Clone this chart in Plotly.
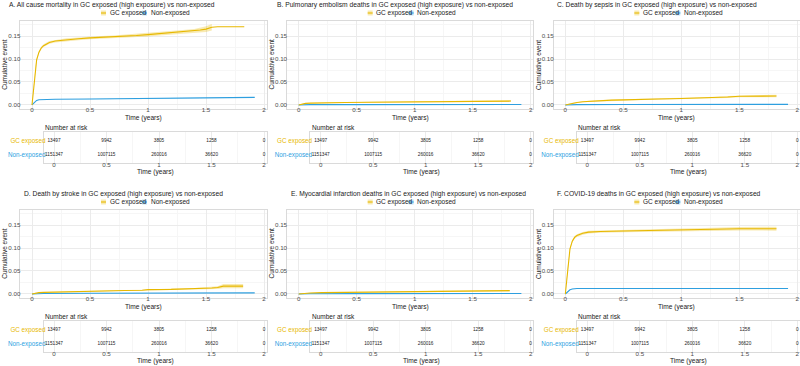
import plotly.graph_objects as go

# ---------------- data ----------------
panel_titles = [
    "A. All cause mortality in GC exposed (high exposure) vs non-exposed",
    "B. Pulmonary embolism deaths in GC exposed (high exposure) vs non-exposed",
    "C. Death by sepsis in GC exposed (high exposure) vs non-exposed",
    "D. Death by stroke in GC exposed (high exposure) vs non-exposed",
    "E. Myocardial infarction deaths in GC exposed (high exposure) vs non-exposed",
    "F. COVID-19 deaths in GC exposed (high exposure) vs non-exposed",
]
group_names = ["GC exposed", "Non-exposed"]
risk_times = [0, 0.5, 1, 1.5, 2]
risk_gc = ["13497", "9942", "3805", "1258", "0"]
risk_ne = ["1151347", "1007115", "260016", "36620", "0"]
x_tick_vals = [0, 0.5, 1, 1.5, 2]
x_tick_text = ["0", "0.5", "1", "1.5", "2"]
y_tick_vals = [0, 0.05, 0.10, 0.15]
y_tick_text = ["0.00", "0.05", "0.10", "0.15"]

# Panel A
A_gc_t = [0, 0.01, 0.02, 0.03, 0.04, 0.06, 0.08, 0.1, 0.15, 0.2, 0.3, 0.4, 0.5, 0.6, 0.7, 0.8, 0.9, 1.0, 1.1, 1.2, 1.3, 1.4, 1.45, 1.5, 1.55, 1.6, 1.83]
A_gc_est = [0, 0.025, 0.055, 0.08, 0.098, 0.115, 0.124, 0.129, 0.136, 0.139, 0.142, 0.144, 0.146, 0.147, 0.148, 0.150, 0.151, 0.153, 0.155, 0.157, 0.159, 0.161, 0.163, 0.165, 0.169, 0.170, 0.170]
A_gc_band_t = [0, 0.01, 0.02, 0.03, 0.04, 0.06, 0.08, 0.1, 0.15, 0.2, 0.3, 0.4, 0.5, 0.6, 0.7, 0.8, 0.9, 1.0, 1.1, 1.2, 1.3, 1.4, 1.45, 1.5, 1.55]
A_gc_lo = [0, 0.023, 0.052, 0.077, 0.095, 0.112, 0.121, 0.126, 0.133, 0.136, 0.139, 0.141, 0.143, 0.144, 0.145, 0.147, 0.148, 0.149, 0.151, 0.153, 0.155, 0.157, 0.158, 0.159, 0.162]
A_gc_hi = [0, 0.027, 0.058, 0.083, 0.101, 0.118, 0.127, 0.132, 0.139, 0.142, 0.145, 0.147, 0.149, 0.150, 0.151, 0.153, 0.154, 0.157, 0.159, 0.161, 0.163, 0.165, 0.168, 0.171, 0.176]
A_ne_t = [0, 0.02, 0.04, 0.06, 0.1, 0.2, 0.5, 1.0, 1.3, 1.5, 1.92]
A_ne_est = [0, 0.006, 0.010, 0.0115, 0.0122, 0.0125, 0.013, 0.0138, 0.0148, 0.0157, 0.0165]
A_ne_lo = [0, 0.0057, 0.0097, 0.0112, 0.0119, 0.0122, 0.0127, 0.0135, 0.0144, 0.0152, 0.0158]
A_ne_hi = [0, 0.0063, 0.0103, 0.0118, 0.0125, 0.0128, 0.0133, 0.0141, 0.0152, 0.0162, 0.0172]

# Panel B
B_gc_t = [0, 0.03, 0.06, 0.1, 0.2, 0.4, 0.6, 0.8, 1.0, 1.2, 1.4, 1.5, 1.83]
B_gc_est = [0, 0.002, 0.0035, 0.004, 0.005, 0.0055, 0.006, 0.0065, 0.007, 0.0072, 0.0078, 0.0085, 0.0085]
B_gc_lo = [0, 0.0012, 0.0025, 0.003, 0.0038, 0.0043, 0.0047, 0.0051, 0.0055, 0.0057, 0.0062, 0.0068, 0.0068]
B_gc_hi = [0, 0.0028, 0.0045, 0.005, 0.0062, 0.0068, 0.0073, 0.0079, 0.0085, 0.0088, 0.0095, 0.0103, 0.0103]
B_ne_t = [0, 0.1, 0.5, 1.0, 1.5, 1.92]
B_ne_est = [0, 0.0007, 0.0008, 0.0009, 0.001, 0.001]
B_ne_lo = [0, 0.0006, 0.0007, 0.0008, 0.0009, 0.0008]
B_ne_hi = [0, 0.0008, 0.0009, 0.001, 0.0011, 0.0012]

# Panel C
C_gc_t = [0, 0.03, 0.06, 0.1, 0.15, 0.2, 0.3, 0.4, 0.5, 0.6, 0.8, 1.0, 1.2, 1.3, 1.4, 1.5, 1.82]
C_gc_est = [0, 0.002, 0.004, 0.0055, 0.007, 0.008, 0.0095, 0.0105, 0.011, 0.012, 0.013, 0.014, 0.015, 0.016, 0.0175, 0.019, 0.0195]
C_gc_lo = [0, 0.0012, 0.003, 0.0043, 0.0057, 0.0066, 0.008, 0.0089, 0.0094, 0.0103, 0.0112, 0.0121, 0.013, 0.0139, 0.0153, 0.0166, 0.0168]
C_gc_hi = [0, 0.0028, 0.005, 0.0067, 0.0083, 0.0094, 0.011, 0.0121, 0.0126, 0.0137, 0.0148, 0.0159, 0.017, 0.0181, 0.0197, 0.0214, 0.0222]
C_ne_t = [0, 0.1, 0.5, 1.0, 1.5, 1.92]
C_ne_est = [0, 0.0008, 0.001, 0.0012, 0.0013, 0.0014]
C_ne_lo = [0, 0.0007, 0.0009, 0.0011, 0.0012, 0.0012]
C_ne_hi = [0, 0.0009, 0.0011, 0.0013, 0.0014, 0.0016]

# Panel D
D_gc_t = [0, 0.03, 0.06, 0.1, 0.2, 0.4, 0.6, 0.8, 0.95, 1.0, 1.2, 1.4, 1.5, 1.55, 1.6, 1.65, 1.82]
D_gc_est = [0, 0.002, 0.003, 0.0035, 0.0043, 0.0055, 0.0065, 0.0075, 0.008, 0.0095, 0.010, 0.011, 0.012, 0.013, 0.014, 0.017, 0.017]
D_gc_lo = [0, 0.0012, 0.0021, 0.0026, 0.0033, 0.0044, 0.0053, 0.0062, 0.0066, 0.0079, 0.0083, 0.0091, 0.0098, 0.0104, 0.011, 0.0125, 0.0125]
D_gc_hi = [0, 0.0028, 0.0039, 0.0044, 0.0053, 0.0066, 0.0077, 0.0088, 0.0094, 0.0111, 0.0117, 0.0129, 0.0142, 0.0156, 0.017, 0.0215, 0.0215]
D_ne_t = [0, 0.1, 0.5, 1.0, 1.5, 1.92]
D_ne_est = [0, 0.0012, 0.0016, 0.002, 0.0023, 0.0025]
D_ne_lo = [0, 0.0011, 0.0015, 0.0019, 0.0021, 0.0022]
D_ne_hi = [0, 0.0013, 0.0017, 0.0021, 0.0025, 0.0028]

# Panel E
E_gc_t = [0, 0.05, 0.1, 0.2, 0.4, 0.6, 0.8, 1.0, 1.2, 1.4, 1.5, 1.82]
E_gc_est = [0, 0.0015, 0.0022, 0.003, 0.0035, 0.004, 0.0045, 0.005, 0.0055, 0.006, 0.007, 0.0072]
E_gc_lo = [0, 0.0008, 0.0014, 0.0021, 0.0026, 0.003, 0.0034, 0.0038, 0.0042, 0.0046, 0.0054, 0.0055]
E_gc_hi = [0, 0.0022, 0.003, 0.0039, 0.0044, 0.005, 0.0056, 0.0062, 0.0068, 0.0074, 0.0086, 0.0089]
E_ne_t = [0, 0.1, 0.5, 1.0, 1.5, 1.92]
E_ne_est = [0, 0.0006, 0.0008, 0.001, 0.0011, 0.0012]
E_ne_lo = [0, 0.0005, 0.0007, 0.0009, 0.001, 0.001]
E_ne_hi = [0, 0.0007, 0.0009, 0.0011, 0.0012, 0.0014]

# Panel F
F_gc_t = [0, 0.01, 0.02, 0.03, 0.04, 0.06, 0.08, 0.1, 0.15, 0.2, 0.3, 0.5, 0.7, 1.0, 1.2, 1.3, 1.5, 1.82]
F_gc_est = [0, 0.025, 0.055, 0.08, 0.098, 0.115, 0.123, 0.127, 0.132, 0.1345, 0.136, 0.137, 0.138, 0.139, 0.140, 0.1415, 0.142, 0.142]
F_gc_lo = [0, 0.023, 0.052, 0.077, 0.095, 0.112, 0.12, 0.124, 0.129, 0.1315, 0.133, 0.134, 0.135, 0.1358, 0.1366, 0.1379, 0.1382, 0.1378]
F_gc_hi = [0, 0.027, 0.058, 0.083, 0.101, 0.118, 0.126, 0.130, 0.135, 0.1375, 0.139, 0.140, 0.141, 0.1422, 0.1434, 0.1451, 0.1458, 0.1462]
F_ne_t = [0, 0.02, 0.04, 0.06, 0.1, 0.2, 0.5, 1.0, 1.5, 1.92]
F_ne_est = [0, 0.005, 0.009, 0.011, 0.0118, 0.012, 0.012, 0.012, 0.012, 0.012]
F_ne_lo = [0, 0.0048, 0.0087, 0.0107, 0.0115, 0.0117, 0.0117, 0.0117, 0.0117, 0.0116]
F_ne_hi = [0, 0.0052, 0.0093, 0.0113, 0.0121, 0.0123, 0.0123, 0.0123, 0.0123, 0.0124]

panels = [
    (A_gc_t, A_gc_est, A_gc_band_t, A_gc_lo, A_gc_hi, A_ne_t, A_ne_est, A_ne_lo, A_ne_hi),
    (B_gc_t, B_gc_est, B_gc_t, B_gc_lo, B_gc_hi, B_ne_t, B_ne_est, B_ne_lo, B_ne_hi),
    (C_gc_t, C_gc_est, C_gc_t, C_gc_lo, C_gc_hi, C_ne_t, C_ne_est, C_ne_lo, C_ne_hi),
    (D_gc_t, D_gc_est, D_gc_t, D_gc_lo, D_gc_hi, D_ne_t, D_ne_est, D_ne_lo, D_ne_hi),
    (E_gc_t, E_gc_est, E_gc_t, E_gc_lo, E_gc_hi, E_ne_t, E_ne_est, E_ne_lo, E_ne_hi),
    (F_gc_t, F_gc_est, F_gc_t, F_gc_lo, F_gc_hi, F_ne_t, F_ne_est, F_ne_lo, F_ne_hi),
]

# ---------------- styling / layout ----------------
W, H = 800, 366
GOLD = "#E7B800"
BLUE = "#2E9FDF"
GOLD_F = "rgba(231,184,0,0.30)"
BLUE_F = "rgba(46,159,223,0.30)"
FONT = "Liberation Sans, Arial, sans-serif"
TICK_C = "#4D4D4D"
TXT_C = "#1A1A1A"
GRID = "#EBEBEB"
MGRID = "#F6F6F6"
BORDER = "#DADADA"
COLW = W / 3.0
ROWH = 189
SCALE = 116.0       # px per year in curve panels
TSCALE = 105.0      # px per year in risk table
title_x = [7, 275, 555, 22, 289, 555]


def fx(p):
    return max(0.0, min(1.0, p / W))


def fy(p):
    return max(0.0, min(1.0, 1 - p / H))


fig = go.Figure()
layout = {}
annotations = []
shapes = []

for i, data in enumerate(panels):
    gt, ge, gbt, glo, ghi, nt, ne, nlo, nhi = data
    c, r = i % 3, i // 3
    dy = ROWH * r
    n1, n2 = 2 * i + 1, 2 * i + 2
    xa1, ya1 = ("x" if n1 == 1 else f"x{n1}"), ("y" if n1 == 1 else f"y{n1}")
    xa2, ya2 = f"x{n2}", f"y{n2}"

    x0 = 32 + COLW * c          # pixel of t=0 in curve panel
    left = x0 - 0.1 * SCALE
    right = min(COLW * (c + 1), W)
    xr = (right - x0) / SCALE
    ytop, ybot = 20.5 + dy, 109.0 + dy

    # confidence bands
    fig.add_trace(go.Scatter(x=nt + nt[::-1], y=nlo + nhi[::-1], fill="toself", fillcolor=BLUE_F,
                             line=dict(width=0), mode="lines", hoverinfo="skip", showlegend=False,
                             xaxis=xa1, yaxis=ya1))
    fig.add_trace(go.Scatter(x=gbt + gbt[::-1], y=glo + ghi[::-1], fill="toself", fillcolor=GOLD_F,
                             line=dict(width=0), mode="lines", hoverinfo="skip", showlegend=False,
                             xaxis=xa1, yaxis=ya1))
    # curves
    fig.add_trace(go.Scatter(x=nt, y=ne, mode="lines", line=dict(color=BLUE, width=1.1),
                             name=group_names[1], showlegend=False, xaxis=xa1, yaxis=ya1))
    fig.add_trace(go.Scatter(x=gt, y=ge, mode="lines", line=dict(color=GOLD, width=1.1),
                             name=group_names[0], showlegend=False, xaxis=xa1, yaxis=ya1))

    common = dict(showgrid=True, gridcolor=GRID, gridwidth=0.6, zeroline=False, showline=True,
                  linecolor=BORDER, linewidth=0.6, mirror=True, ticks="",
                  tickfont=dict(size=6.2, color=TICK_C, family=FONT), fixedrange=True)
    layout["xaxis" if n1 == 1 else f"xaxis{n1}"] = dict(
        domain=[fx(left), fx(right)], range=[-0.1, xr], anchor=ya1,
        tickvals=x_tick_vals, ticktext=x_tick_text, ticklabelstandoff=-5,
        minor=dict(tickvals=[0.25, 0.75, 1.25, 1.75], showgrid=True, gridcolor=MGRID, gridwidth=0.5),
        **common)
    layout["yaxis" if n1 == 1 else f"yaxis{n1}"] = dict(
        domain=[fy(ybot), fy(ytop)], range=[-0.00875, 0.18375], anchor=xa1,
        tickvals=y_tick_vals, ticktext=y_tick_text, ticklabelstandoff=-2,
        minor=dict(tickvals=[0.025, 0.075, 0.125, 0.175], showgrid=True, gridcolor=MGRID, gridwidth=0.5),
        **common)

    # risk table
    tx0 = 54 + COLW * c
    tleft = tx0 - 0.1 * TSCALE
    txr = (right - tx0) / TSCALE
    ttop, tbot = 132 + dy, 163 + dy
    fig.add_trace(go.Scatter(x=risk_times, y=[2] * len(risk_times), text=risk_gc, mode="text",
                             textfont=dict(size=4.7, color="#222222", family=FONT), cliponaxis=True,
                             hoverinfo="skip", showlegend=False, xaxis=xa2, yaxis=ya2))
    fig.add_trace(go.Scatter(x=risk_times, y=[1] * len(risk_times), text=risk_ne, mode="text",
                             textfont=dict(size=4.7, color="#222222", family=FONT), cliponaxis=True,
                             hoverinfo="skip", showlegend=False, xaxis=xa2, yaxis=ya2))
    layout[f"xaxis{n2}"] = dict(
        domain=[fx(tleft), fx(right)], range=[-0.1, txr], anchor=ya2,
        tickvals=x_tick_vals, ticktext=x_tick_text, ticklabelstandoff=-4,
        minor=dict(tickvals=[0.25, 0.75, 1.25, 1.75], showgrid=True, gridcolor=MGRID, gridwidth=0.5),
        **common)
    tcommon = dict(common)
    tcommon["showgrid"] = False
    tcommon["tickfont"] = dict(size=6.3, family=FONT)
    layout[f"yaxis{n2}"] = dict(
        domain=[fy(tbot), fy(ttop)], range=[0.4, 2.6], anchor=xa2,
        tickvals=[2, 1],
        ticktext=[f"<span style='color:{GOLD}'>{group_names[0]}</span>",
                  f"<span style='color:{BLUE}'>{group_names[1]}</span>"],
        ticklabelstandoff=-4, **tcommon)

    # panel title
    annotations.append(dict(text=panel_titles[i], x=fx(title_x[i]), y=fy(5 + dy),
                            xref="paper", yref="paper", xanchor="left", yanchor="middle", showarrow=False,
                            font=dict(size=6.7, color=TXT_C, family=FONT)))
    # axis titles
    annotations.append(dict(text="Cumulative event", x=fx(5 + COLW * c), y=fy((ytop + ybot) / 2),
                            xref="paper", yref="paper", xanchor="center", yanchor="middle", textangle=-90,
                            showarrow=False, font=dict(size=6.5, color=TXT_C, family=FONT)))
    annotations.append(dict(text="Time (years)", x=fx((left + right) / 2), y=fy(117.5 + dy),
                            xref="paper", yref="paper", xanchor="center", yanchor="middle",
                            showarrow=False, font=dict(size=6.6, color=TXT_C, family=FONT)))
    annotations.append(dict(text="Time (years)", x=fx((tleft + right) / 2), y=fy(172 + dy),
                            xref="paper", yref="paper", xanchor="center", yanchor="middle",
                            showarrow=False, font=dict(size=6.6, color=TXT_C, family=FONT)))
    annotations.append(dict(text="Number at risk", x=fx(43 + COLW * c), y=fy(127 + dy),
                            xref="paper", yref="paper", xanchor="left", yanchor="middle",
                            showarrow=False, font=dict(size=6.5, color=TXT_C, family=FONT)))

    # legend (keys + labels)
    ly = 13 + dy
    lx = 101 + COLW * c
    for col, fcol, label, off in [(GOLD, GOLD_F, group_names[0], 0),
                                  (BLUE, BLUE_F, group_names[1], 41)]:
        kx = lx + off
        shapes.append(dict(type="rect", xref="paper", yref="paper", x0=fx(kx), x1=fx(kx + 5),
                           y0=fy(ly + 2.5), y1=fy(ly - 2.5), fillcolor=fcol, line=dict(width=0)))
        shapes.append(dict(type="line", xref="paper", yref="paper", x0=fx(kx), x1=fx(kx + 5),
                           y0=fy(ly), y1=fy(ly), line=dict(color=col, width=1.1)))
        annotations.append(dict(text=label, x=fx(kx + 6.5), y=fy(ly), xref="paper", yref="paper",
                                xanchor="left", yanchor="middle", showarrow=False,
                                font=dict(size=6.5, color=TXT_C, family=FONT)))

fig.update_layout(
    width=W, height=H, margin=dict(l=0, r=0, t=0, b=0),
    paper_bgcolor="white", plot_bgcolor="white",
    font=dict(family=FONT, size=6, color=TICK_C),
    showlegend=False, annotations=annotations, shapes=shapes,
    **layout,
)

fig.write_html(
    "out.html",
    config={"displayModeBar": False},
    post_script="document.body.style.margin='0px';document.body.style.padding='0px';",
)
